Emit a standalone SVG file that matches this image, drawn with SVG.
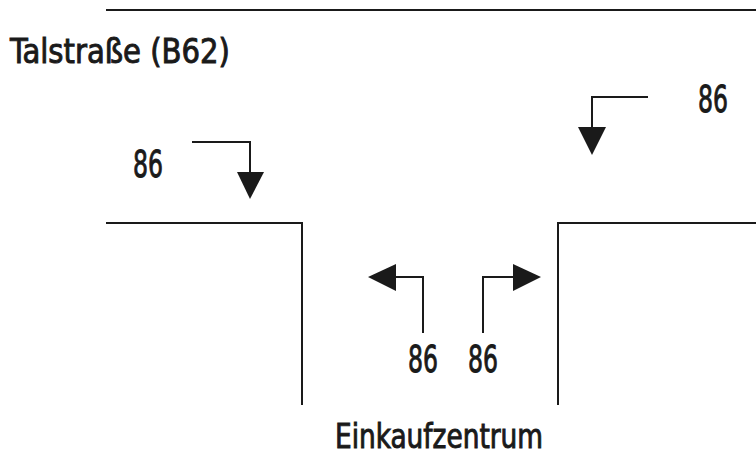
<svg xmlns="http://www.w3.org/2000/svg" width="756" height="461" viewBox="0 0 756 461">
  <style>
    .edge { fill: none; stroke: #1a1a1a; stroke-width: 2; }
    .arrow { fill: none; stroke: #1a1a1a; stroke-width: 2; }
    .head { fill: #1a1a1a; }
    .lbl { font-family: "DejaVu Sans Condensed", "Liberation Sans", sans-serif; fill: #1a1a1a; stroke: #1a1a1a; stroke-width: 0.9; }
    .num { font-size: 38px; }
    .street { font-size: 33px; }
  </style>
  <rect width="756" height="461" fill="#ffffff"/>

  <!-- road edges -->
  <g id="road">
    <line class="edge" x1="106" y1="10" x2="756" y2="10"/>
    <polyline class="edge" points="106,223 302,223 302,405"/>
    <polyline class="edge" points="558,405 558,223 756,223"/>
  </g>

  <g id="labels">
    <text class="lbl street" x="10" y="63" textLength="220" lengthAdjust="spacingAndGlyphs">Talstraße (B62)</text>
    <text class="lbl street" x="335" y="448" textLength="208" lengthAdjust="spacingAndGlyphs">Einkaufzentrum</text>
  </g>

  <!-- turning arrows with volumes -->
  <g id="connectors">
    <g id="turn-west-right">
      <polyline class="arrow" points="192,142 250,142 250,173"/>
      <polygon class="head" points="237,172 264,172 250,199"/>
      <text class="lbl num" x="133" y="177" textLength="30" lengthAdjust="spacingAndGlyphs">86</text>
    </g>
    <g id="turn-east-left">
      <polyline class="arrow" points="648,97 592,97 592,128"/>
      <polygon class="head" points="578,127 606,127 592,155"/>
      <text class="lbl num" x="698" y="112" textLength="30" lengthAdjust="spacingAndGlyphs">86</text>
    </g>
    <g id="exit-left">
      <polyline class="arrow" points="423,333 423,277 396,277"/>
      <polygon class="head" points="396,264 396,291 368,277"/>
      <text class="lbl num" x="408" y="372" textLength="30" lengthAdjust="spacingAndGlyphs">86</text>
    </g>
    <g id="exit-right">
      <polyline class="arrow" points="483,333 483,277 513,277"/>
      <polygon class="head" points="513,264 513,291 541,277"/>
      <text class="lbl num" x="468" y="372" textLength="30" lengthAdjust="spacingAndGlyphs">86</text>
    </g>
  </g>
</svg>
